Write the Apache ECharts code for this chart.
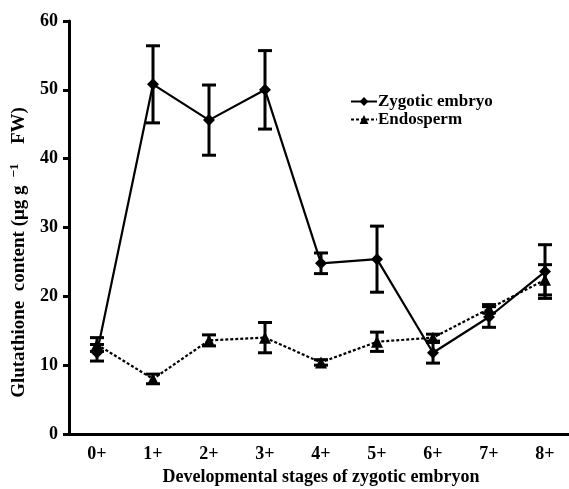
<!DOCTYPE html>
<html>
<head>
  <meta charset="utf-8">
</head>
<body style="height: 100%; margin: 0">
  <div id="container" style="width: 569px; height: 489px"></div>
  <script type="text/javascript" src="https://cdn.jsdelivr.net/npm/echarts@6/dist/echarts.min.js"></script>
  <script type="text/javascript">
    var stages = ['0+', '1+', '2+', '3+', '4+', '5+', '6+', '7+', '8+'];
    var zygotic = [11.8, 50.8, 45.6, 50.0, 24.8, 25.4, 11.8, 17.0, 23.6];
    var zygoticErr = [1.2, 5.6, 5.1, 5.7, 1.5, 4.8, 1.5, 1.5, 3.9];
    var endosperm = [13.0, 8.0, 13.6, 14.0, 10.4, 13.4, 14.0, 18.2, 22.4];
    var endospermErr = [1.0, 0.7, 0.8, 2.2, 0.4, 1.4, 0.5, 0.6, 2.2];
    var yTicks = [0, 10, 20, 30, 40, 50, 60];

    var font = 'Liberation Serif';

    function errData(vals, errs) {
      return vals.map(function (v, i) { return [i, v - errs[i], v + errs[i]]; });
    }

    function errRender(params, api) {
      var lo = api.coord([api.value(0), api.value(1)]);
      var hi = api.coord([api.value(0), api.value(2)]);
      var w = 7;
      var st = { stroke: '#000', lineWidth: 3 };
      return {
        type: 'group',
        children: [
          { type: 'line', shape: { x1: lo[0], y1: lo[1], x2: hi[0], y2: hi[1] }, style: st },
          { type: 'line', shape: { x1: lo[0] - w, y1: lo[1], x2: lo[0] + w, y2: lo[1] }, style: st },
          { type: 'line', shape: { x1: hi[0] - w, y1: hi[1], x2: hi[0] + w, y2: hi[1] }, style: st }
        ]
      };
    }

    var chart = echarts.init(document.getElementById('container'), null, { renderer: 'canvas' });

    var txt = { fontFamily: font, fontSize: 18, fontWeight: 'bold', color: '#000' };

    var option = {
      animation: false,
      backgroundColor: '#fff',
      textStyle: { fontFamily: font, color: '#000' },
      grid: { left: 69, top: 21, width: 504, height: 413, outerBoundsMode: 'none', containLabel: false },
      legend: {
        orient: 'vertical',
        left: 345,
        top: 88,
        itemWidth: 26,
        itemHeight: 11,
        itemGap: 1,
        data: ['Zygotic embryo', 'Endosperm'],
        textStyle: Object.assign({}, txt, { fontSize: 17, padding: [0, 0, 0, -4] })
      },
      xAxis: {
        type: 'category',
        data: stages,
        boundaryGap: true,
        name: 'Developmental stages of zygotic embryon',
        nameLocation: 'middle',
        nameGap: 33,
        nameTextStyle: txt,
        axisLine: { lineStyle: { color: '#000', width: 3 } },
        axisTick: { length: 7, lineStyle: { color: '#000', width: 3 } },
        axisLabel: Object.assign({}, txt, { margin: 11 })
      },
      yAxis: {
        type: 'value',
        min: yTicks[0],
        max: yTicks[yTicks.length - 1],
        interval: 10,
        name: '{a|Glutathione  content (μg g}{s|−1}{a|  FW)}',
        nameLocation: 'middle',
        nameGap: 38,
        nameTextStyle: {
          padding: [0, 50, 0, 0],
          rich: {
            a: Object.assign({}, txt, { fontSize: 19 }),
            s: { fontFamily: font, fontSize: 13, fontWeight: 'bold', color: '#000', verticalAlign: 'bottom', padding: [0, 10, 10, 8] }
          }
        },
        splitLine: { show: false },
        axisLine: { show: true, lineStyle: { color: '#000', width: 3 } },
        axisTick: { show: true, length: 6, lineStyle: { color: '#000', width: 3 } },
        axisLabel: Object.assign({}, txt, { margin: 11 })
      },
      series: [
        {
          type: 'custom',
          renderItem: errRender,
          data: errData(zygotic, zygoticErr),
          encode: { x: 0, y: [1, 2] },
          z: 1,
          silent: true
        },
        {
          type: 'custom',
          renderItem: errRender,
          data: errData(endosperm, endospermErr),
          encode: { x: 0, y: [1, 2] },
          z: 1,
          silent: true
        },
        {
          name: 'Zygotic embryo',
          type: 'line',
          data: zygotic,
          symbol: 'diamond',
          symbolSize: 12,
          itemStyle: { color: '#000' },
          lineStyle: { color: '#000', width: 2.2 },
          z: 3
        },
        {
          name: 'Endosperm',
          type: 'line',
          data: endosperm,
          symbol: 'triangle',
          symbolSize: 12,
          itemStyle: { color: '#000' },
          lineStyle: { color: '#000', width: 2.2, type: [3, 2] },
          z: 2
        }
      ]
    };

    chart.setOption(option);
  </script>
</body>
</html>
